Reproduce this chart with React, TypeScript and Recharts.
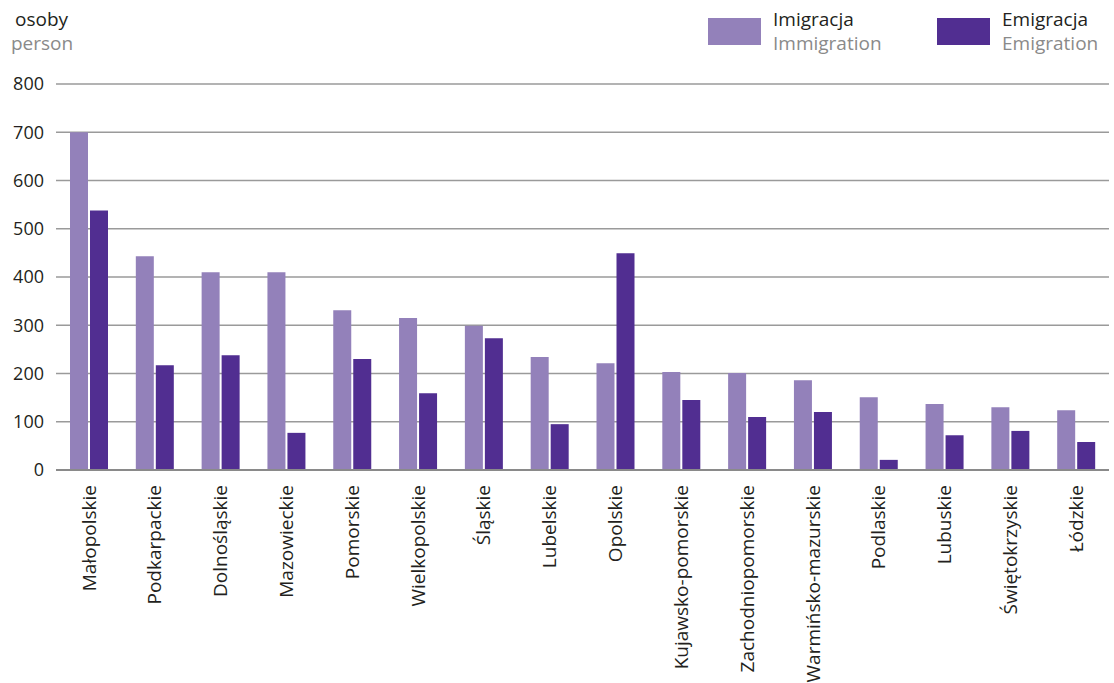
import { Bar, BarChart, CartesianGrid, XAxis, YAxis } from "recharts";

const regions = [
  "Małopolskie",
  "Podkarpackie",
  "Dolnośląskie",
  "Mazowieckie",
  "Pomorskie",
  "Wielkopolskie",
  "Śląskie",
  "Lubelskie",
  "Opolskie",
  "Kujawsko-pomorskie",
  "Zachodniopomorskie",
  "Warmińsko-mazurskie",
  "Podlaskie",
  "Lubuskie",
  "Świętokrzyskie",
  "Łódzkie",
];

const immigration = [700, 443, 410, 410, 331, 315, 299, 234, 221, 203, 201, 186, 151, 137, 130, 124];
const emigration = [538, 217, 238, 77, 230, 159, 273, 95, 449, 145, 110, 120, 21, 72, 81, 58];

const yTicks = [0, 100, 200, 300, 400, 500, 600, 700, 800];

const IMM_COLOR = "#9381ba";
const EMI_COLOR = "#512e91";
const FONT = "'Open Sans', sans-serif";

const chartData = regions.map((name, i) => ({
  name,
  imm: immigration[i],
  emi: emigration[i],
}));

// rotated category label, reads bottom to top
const RegionTick = (props: any) => {
  const { x, y, payload } = props;
  return (
    <text
      transform={`translate(${x},${y + 7}) rotate(-90)`}
      textAnchor="end"
      dy="0.35em"
      fontFamily={FONT}
      fontSize={19}
      fill="#231f20"
    >
      {payload.value}
    </text>
  );
};

const textLine = (left: number, top: number, color: string) => ({
  position: "absolute" as const,
  left,
  top,
  fontSize: 19,
  color,
  whiteSpace: "nowrap" as const,
  lineHeight: "18px",
});

const LegendItem = ({ color, pl, en, left }: { color: string; pl: string; en: string; left: number }) => (
  <div style={{ position: "absolute", left, top: 0 }}>
    <div style={{ position: "absolute", left: 0, top: 18, width: 53, height: 27, background: color }} />
    <div style={textLine(65, 10, "#231f20")}>{pl}</div>
    <div style={textLine(65, 34, "#8a8a8a")}>{en}</div>
  </div>
);

export default function App() {
  return (
    <div style={{ position: "absolute", left: 0, top: 0, width: 1114, height: 683, background: "#fff", fontFamily: FONT }}>
      <div style={textLine(15, 10, "#231f20")}>osoby</div>
      <div style={textLine(11, 34, "#8a8a8a")}>person</div>
      <LegendItem color={IMM_COLOR} pl="Imigracja" en="Immigration" left={708} />
      <LegendItem color={EMI_COLOR} pl="Emigracja" en="Emigration" left={937} />

      <BarChart
        width={1114}
        height={683}
        data={chartData}
        margin={{ top: 84, right: 5, left: 0, bottom: 0 }}
        barSize={18}
        barGap={2}
      >
        <CartesianGrid vertical={false} stroke="#9a9a9a" strokeWidth={1.5} />
        <XAxis
          dataKey="name"
          interval={0}
          height={213}
          tickLine={false}
          axisLine={{ stroke: "#8a8a8a", strokeWidth: 2 }}
          tick={<RegionTick />}
        />
        <YAxis
          width={56}
          domain={[0, 800]}
          ticks={yTicks}
          axisLine={false}
          tickLine={false}
          tickMargin={6}
          tick={{ fontFamily: FONT, fontSize: 18, fill: "#231f20" }}
        />
        <Bar dataKey="imm" fill={IMM_COLOR} isAnimationActive={false} />
        <Bar dataKey="emi" fill={EMI_COLOR} isAnimationActive={false} />
      </BarChart>
    </div>
  );
}
